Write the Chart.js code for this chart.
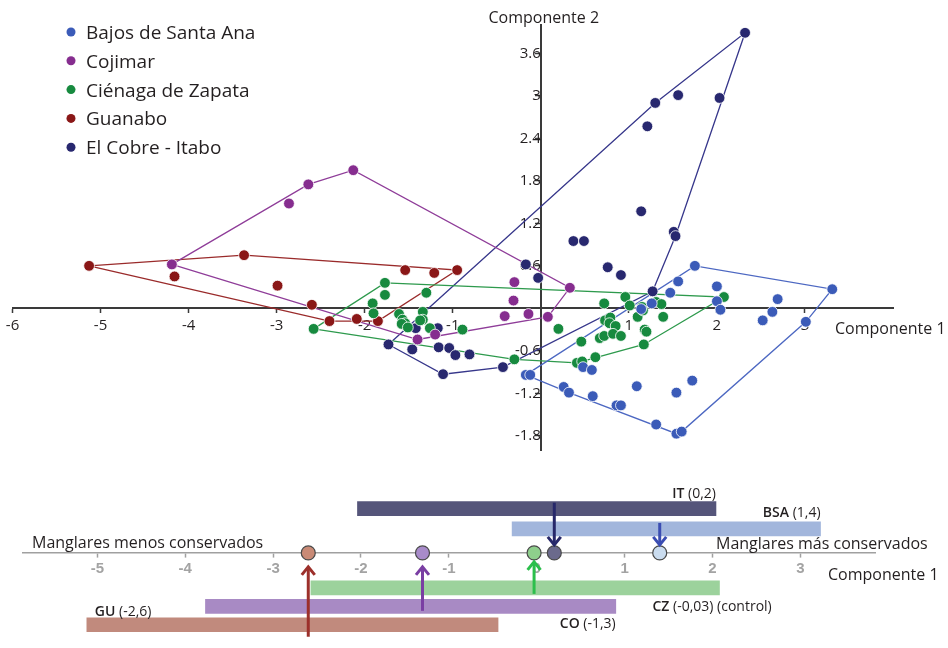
<!DOCTYPE html>
<html>
<head>
<meta charset="utf-8">
<script src="https://cdn.jsdelivr.net/npm/chart.js@4.4.1/dist/chart.umd.min.js"></script>
<style>
  html, body { margin: 0; padding: 0; background: #fff; }
  #wrap { position: relative; width: 948px; height: 648px; overflow: hidden; }
  #pca { position: absolute; left: 0; top: 0; }
  #band { position: absolute; left: 0; top: 460px; }
</style>
</head>
<body>
<div id="wrap">
  <canvas id="pca" width="948" height="460"></canvas>
  <canvas id="band" width="948" height="188"></canvas>
</div>
<script>
// ---- PCA scores per site (Componente 1 / Componente 2) ----
const siteNames = ['Bajos de Santa Ana', 'Cojimar', 'Ciénaga de Zapata', 'Guanabo', 'El Cobre - Itabo'];

const bsaPc1 = [1.75, 3.31, 1.56, 2.00, 1.47, 2.00, 2.04, 2.69, 2.63, 2.52, 3.01, 1.26, 1.14, 1.09,
                1.54, 1.72, 1.31, 1.54, 1.60, -0.17, -0.12, 0.26, 0.32, 0.59, 0.86, 0.91, 0.48, 0.58];
const bsaPc2 = [0.60, 0.27, 0.38, 0.31, 0.22, 0.10, -0.02, 0.13, -0.05, -0.17, -0.19, 0.07, -0.01, -1.10,
                -1.19, -1.02, -1.64, -1.77, -1.74, -0.94, -0.94, -1.11, -1.19, -1.24, -1.37, -1.37, -0.83, -0.87];

const coPc1 = [-2.13, -2.64, -2.86, -4.19, 0.33, -0.30, -0.31, -0.41, -0.14, 0.08, -1.40, -1.20];
const coPc2 = [1.95, 1.75, 1.48, 0.62, 0.29, 0.37, 0.11, -0.11, -0.08, -0.12, -0.44, -0.37];

const czPc1 = [-1.77, -1.77, -1.30, -1.91, -1.90, -2.58, -1.61, -1.57, -1.54, -1.58, -1.51, -1.34, -1.34,
               -1.37, -1.26, -0.89, 0.20, 0.46, 0.41, 0.47, 0.62, 0.72, 0.73, 0.79, 0.78, 0.85, 0.67,
               0.72, 0.82, 0.91, 0.96, 1.01, 1.10, 2.08, 1.15, 1.16, 1.31, 1.37, 1.39, 1.18, 1.20, 1.17, -0.30];
const czPc2 = [0.36, 0.19, 0.22, 0.07, -0.07, -0.29, -0.08, -0.16, -0.21, -0.22, -0.27, -0.05, -0.16,
               -0.17, -0.28, -0.30, -0.29, -0.47, -0.77, -0.75, -0.69, 0.07, -0.17, -0.13, -0.21, -0.25, -0.42,
               -0.39, -0.36, -0.39, 0.16, 0.04, -0.12, 0.16, 0.02, -0.03, 0.09, 0.06, -0.12, -0.30, -0.33, -0.51, -0.72];

const guPc1 = [-5.13, -3.37, -0.95, -1.54, -1.21, -4.16, -2.99, -2.60, -2.40, -2.09, -1.85];
const guPc2 = [0.60, 0.75, 0.54, 0.54, 0.50, 0.45, 0.32, 0.05, -0.18, -0.15, -0.18];

const itPc1 = [2.32, 1.30, 1.56, 2.03, 1.21, 1.14, 1.51, 1.53, 0.37, 0.49, 0.76, 0.91, -0.17, -0.03,
               1.27, -1.42, -1.17, -1.73, -1.46, -1.16, -1.04, -0.97, -0.81, -1.11, -0.43];
const itPc2 = [3.89, 2.90, 3.01, 2.97, 2.57, 1.37, 1.08, 1.02, 0.95, 0.95, 0.58, 0.47, 0.62, 0.43,
               0.24, -0.28, -0.28, -0.51, -0.58, -0.55, -0.56, -0.66, -0.65, -0.93, -0.83];

const pc1Ticks = [-6, -5, -4, -3, -2, -1, 1, 2, 3];
const pc2Ticks = [-1.8, -1.2, -0.6, 0.6, 1.2, 1.8, 2.4, 3, 3.6];

// ---- Component 1 ranges and means per site ----
const bandCodes = ['IT', 'BSA', 'CZ', 'CO', 'GU'];
const bandLow   = [-2.04, -0.28, -2.57, -3.77, -5.12];
const bandHigh  = [2.04, 3.23, 2.08, 0.90, -0.44];
const bandMean  = [0.2, 1.4, -0.03, -1.3, -2.6];
const bandNote  = ['', '', '(control)', '', ''];
const band1Ticks = [-5, -4, -3, -2, -1, 0, 1, 2, 3];

// ---- styling ----
const siteStyle = [
  { point: '#3b5bb8', line: '#4d68c2' },
  { point: '#862d8f', line: '#8f3d99' },
  { point: '#178a3f', line: '#2e9a4d' },
  { point: '#8a1717', line: '#9a2b2b' },
  { point: '#28286f', line: '#37378b' }
];
// lane (row slot) of each bar on the hidden vertical axis, colours and label placement
const bandLayout = {
  lane:       [2.4, 1.3, -1.9, -2.9, -3.9],
  barColor:   ['#55557a', '#a2b6dc', '#9cd29c', '#a88ac4', '#c18a7d'],
  dotColor:   ['#6b6a8c', '#cadcef', '#8ecf8c', '#a88bca', '#c98a76'],
  arrowColor: ['#27286a', '#3b4db2', '#2cbf4c', '#7a3ea3', '#9c302b'],
  arrowStart: [-6, -6, 6, 4.5, 12],    // px from bar centre
  arrowGap:   [8, 8, 9, 14, 14],       // px between axis and arrow tip
  labelSide:  ['end', 'end', 'end', 'end', 'start'],
  labelDx:    [0, 0, -67, -56, 8],
  labelDy:    [-11, -12, 23, 22, -9]   // baseline, px from bar centre
};

const FONT = '"Open Sans", "Noto Sans", sans-serif';

function convexHull(xs, ys) {
  const p = xs.map((x, i) => ({ x, y: ys[i] })).sort((a, b) => a.x - b.x || a.y - b.y);
  const cross = (o, a, b) => (a.x - o.x) * (b.y - o.y) - (a.y - o.y) * (b.x - o.x);
  const lower = [], upper = [];
  for (const q of p) {
    while (lower.length >= 2 && cross(lower[lower.length - 2], lower[lower.length - 1], q) <= 0) lower.pop();
    lower.push(q);
  }
  for (const q of p.slice().reverse()) {
    while (upper.length >= 2 && cross(upper[upper.length - 2], upper[upper.length - 1], q) <= 0) upper.pop();
    upper.push(q);
  }
  lower.pop(); upper.pop();
  const h = lower.concat(upper);
  h.push(h[0]);
  return h;
}

const sitePc1 = [bsaPc1, coPc1, czPc1, guPc1, itPc1];
const sitePc2 = [bsaPc2, coPc2, czPc2, guPc2, itPc2];

const pcaDatasets = [];
siteNames.forEach((name, i) => {
  pcaDatasets.push({
    label: name,
    isSite: true,
    data: sitePc1[i].map((x, k) => ({ x, y: sitePc2[i][k] })),
    backgroundColor: siteStyle[i].point,
    borderColor: '#ffffff',
    borderWidth: 0.8,
    pointRadius: 5.4,
    order: 0
  });
});
siteNames.forEach((name, i) => {
  pcaDatasets.push({
    label: name + ' (envolvente)',
    data: convexHull(sitePc1[i], sitePc2[i]),
    showLine: true,
    fill: false,
    tension: 0,
    borderColor: siteStyle[i].line,
    borderWidth: 1.3,
    pointRadius: 0,
    order: 1
  });
});

const pcaDecor = {
  id: 'pcaDecor',
  afterDraw(chart) {
    const ctx = chart.ctx;
    ctx.save();
    // legend
    ctx.font = '19px ' + FONT;
    ctx.textBaseline = 'alphabetic';
    chart.data.datasets.filter(d => d.isSite).forEach((d, i) => {
      const y = 32 + i * 28.8;
      ctx.fillStyle = d.backgroundColor;
      ctx.beginPath();
      ctx.arc(71, y, 4.5, 0, Math.PI * 2);
      ctx.fill();
      ctx.fillStyle = '#231f20';
      ctx.textAlign = 'left';
      ctx.fillText(d.label, 86, y + 7);
    });
    // axis titles
    ctx.font = '16px ' + FONT;
    ctx.fillStyle = '#231f20';
    ctx.textAlign = 'center';
    ctx.fillText('Componente 2', chart.scales.x.getPixelForValue(0) + 3, 23);
    ctx.textAlign = 'left';
    ctx.fillText('Componente 1', 835, chart.scales.y.getPixelForValue(0) + 26);
    ctx.restore();
  }
};

new Chart(document.getElementById('pca'), {
  type: 'scatter',
  data: { datasets: pcaDatasets },
  options: {
    responsive: false,
    animation: false,
    devicePixelRatio: 1,
    layout: { padding: { left: 12.5, right: 55, top: 25, bottom: 10 } },
    plugins: { legend: { display: false }, tooltip: { enabled: false } },
    scales: {
      x: {
        type: 'linear', min: -6, max: 4, position: { y: 0 },
        afterBuildTicks: s => { s.ticks = pc1Ticks.map(v => ({ value: v })); },
        grid: { display: true, drawOnChartArea: false, drawTicks: true, tickLength: 4,
                tickColor: '#3a3a3a', tickWidth: 1.5, color: '#3a3a3a' },
        border: { display: true, color: '#3a3a3a', width: 2 },
        ticks: { color: '#231f20', font: { family: FONT, size: 15 }, padding: 4,
                 maxRotation: 0, autoSkip: false, callback: v => String(v) }
      },
      y: {
        type: 'linear', min: -2, max: 4, position: { x: 0 },
        afterBuildTicks: s => { s.ticks = pc2Ticks.map(v => ({ value: v })); },
        grid: { display: true, drawOnChartArea: false, drawTicks: true, tickLength: 5,
                tickColor: '#3a3a3a', tickWidth: 1.5, color: '#3a3a3a' },
        border: { display: true, color: '#3a3a3a', width: 2 },
        ticks: { color: '#231f20', font: { family: FONT, size: 15 }, padding: 1,
                 autoSkip: false, callback: v => String(v) }
      }
    }
  },
  plugins: [pcaDecor]
});

// ---- Component 1 range chart ----
const fmtComma = v => String(v).replace('.', ',');

const bandDecor = {
  id: 'bandDecor',
  afterDatasetsDraw(chart) {
    const ctx = chart.ctx;
    const xs = chart.scales.x, ys = chart.scales.y;
    const axisY = ys.getPixelForValue(0);
    ctx.save();
    // arrows from each bar to its mean on the axis
    bandCodes.forEach((code, i) => {
      const x = xs.getPixelForValue(bandMean[i]);
      const barY = ys.getPixelForValue(bandLayout.lane[i]);
      const y0 = barY + bandLayout.arrowStart[i];
      const down = bandLayout.lane[i] > 0;
      const tip = down ? axisY - bandLayout.arrowGap[i] : axisY + bandLayout.arrowGap[i];
      const dir = down ? 1 : -1;
      ctx.strokeStyle = bandLayout.arrowColor[i];
      ctx.lineWidth = 3;
      ctx.lineCap = 'butt';
      ctx.lineJoin = 'miter';
      ctx.beginPath();
      ctx.moveTo(x, y0);
      ctx.lineTo(x, tip - dir * 1.5);
      ctx.stroke();
      ctx.beginPath();
      ctx.moveTo(x - 6.5, tip - dir * 8);
      ctx.lineTo(x, tip);
      ctx.lineTo(x + 6.5, tip - dir * 8);
      ctx.stroke();
    });
    // bar labels: bold code followed by the mean
    bandCodes.forEach((code, i) => {
      const barY = ys.getPixelForValue(bandLayout.lane[i]);
      const bold = '600 14px ' + FONT, reg = '14px ' + FONT;
      const rest = ' (' + fmtComma(bandMean[i]) + ')' + (bandNote[i] ? ' ' + bandNote[i] : '');
      ctx.font = bold; const wb = ctx.measureText(code).width;
      ctx.font = reg; const wr = ctx.measureText(rest).width;
      let left;
      if (bandLayout.labelSide[i] === 'end') {
        left = xs.getPixelForValue(bandHigh[i]) + bandLayout.labelDx[i];
        if (bandLayout.labelDx[i] === 0) left -= (wb + wr);
      } else {
        left = xs.getPixelForValue(bandLow[i]) + bandLayout.labelDx[i];
      }
      const y = barY + bandLayout.labelDy[i];
      ctx.fillStyle = '#231f20';
      ctx.textAlign = 'left';
      ctx.textBaseline = 'alphabetic';
      ctx.font = bold; ctx.fillText(code, left, y);
      ctx.font = reg; ctx.fillText(rest, left + wb, y);
    });
    // axis end captions
    ctx.font = '16px ' + FONT;
    ctx.fillStyle = '#231f20';
    ctx.textAlign = 'left';
    ctx.fillText('Manglares menos conservados', 32, axisY - 4.5);
    ctx.fillText('Manglares más conservados', 716, axisY - 4);
    ctx.fillText('Componente 1', 828, axisY + 27.5);
    ctx.restore();
  }
};

new Chart(document.getElementById('band'), {
  type: 'bar',
  data: {
    datasets: [
      {
        type: 'scatter',
        label: 'Media',
        data: bandMean.map(m => ({ x: m, y: 0 })),
        pointRadius: 7,
        pointBackgroundColor: bandLayout.dotColor,
        pointBorderColor: '#4a4a4a',
        pointBorderWidth: 1.2,
        order: 0
      },
      {
        label: 'Rango',
        data: bandCodes.map((c, i) => ({ x: [bandLow[i], bandHigh[i]], y: bandLayout.lane[i] })),
        backgroundColor: bandLayout.barColor,
        borderWidth: 0,
        barThickness: 14,
        order: 1
      }
    ]
  },
  options: {
    indexAxis: 'y',
    responsive: false,
    animation: false,
    devicePixelRatio: 1,
    layout: { padding: { left: 22.7, right: 73, top: 0, bottom: 0 } },
    plugins: { legend: { display: false }, tooltip: { enabled: false } },
    scales: {
      x: {
        type: 'linear', min: -5.85, max: 3.85, position: { y: 0 },
        afterBuildTicks: s => { s.ticks = band1Ticks.map(v => ({ value: v })); },
        grid: { display: true, drawOnChartArea: false, drawTicks: true, tickLength: 4,
                tickColor: '#a0a0a0', tickWidth: 1.5, color: '#a0a0a0' },
        border: { display: true, color: '#a0a0a0', width: 1.6 },
        ticks: { color: '#a3a3a3', font: { family: '"Liberation Sans", Arial, sans-serif', size: 15, weight: 'bold' },
                 padding: 3, maxRotation: 0, autoSkip: false, callback: v => String(v) }
      },
      y: { type: 'linear', min: -4.2, max: 4.08, display: false }
    }
  },
  plugins: [bandDecor]
});
</script>
</body>
</html>
